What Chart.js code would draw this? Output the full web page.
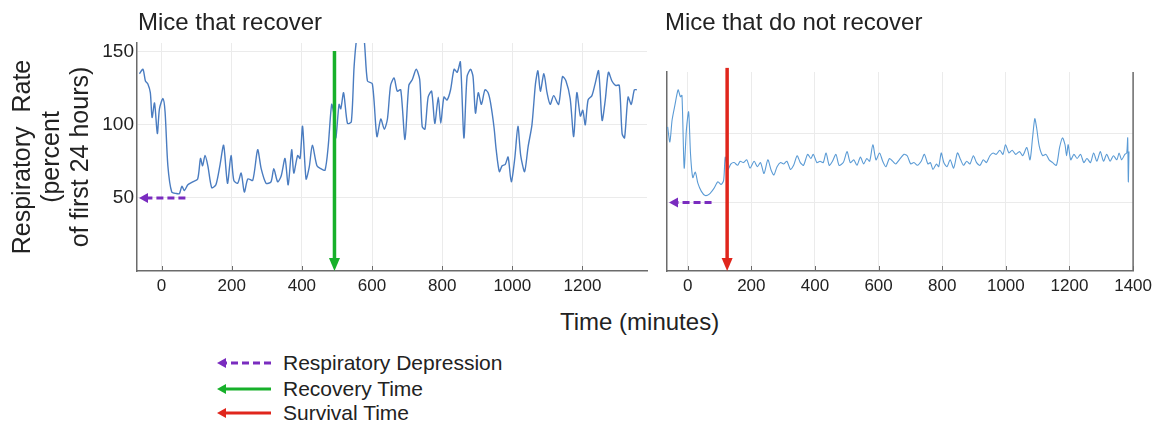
<!DOCTYPE html>
<html>
<head>
<meta charset="utf-8">
<script src="https://cdn.jsdelivr.net/npm/chart.js@4.4.1/dist/chart.umd.min.js"></script>
<style>
  body { margin: 0; background: #fff; font-family: "Liberation Sans", Arial, sans-serif; color: #222; }
  #wrap { position: relative; width: 1157px; height: 424px; overflow: hidden; }
  canvas { position: absolute; top: 0; }
  .txt { position: absolute; white-space: nowrap; }
  .title { font-size: 24px; line-height: 28px; top: 8px; }
  .leg { position: absolute; left: 217px; height: 24px; display: flex; align-items: center; font-size: 21px; }
  .leg svg { margin-right: 12px; }
</style>
</head>
<body>
<div id="wrap">
  <canvas id="recover" width="660" height="300" style="left:0"></canvas>
  <canvas id="norecover" width="502" height="300" style="left:655px"></canvas>
  <div class="txt title" style="left:138px">Mice that recover</div>
  <div class="txt title" style="left:665px">Mice that do not recover</div>
  <div class="txt" style="left:560px;top:308px;font-size:24px;line-height:28px">Time (minutes)</div>
  <div id="legend"></div>
</div>
<script>
// Respiratory rate traces (percent of first 24 hours) vs time (minutes)
const recoverTimes = [-63, -53, -46, -39, -32, -27, -20, -12, -6, 4, 10, 18, 29, 42, 51, 58, 65, 75, 89, 103,
  111, 117, 124, 132, 143, 155, 167, 177, 188, 198, 206, 217, 227, 236, 246, 260, 274, 284, 298, 312,
  320, 331, 341, 352, 361, 371, 377, 388, 395, 402, 412, 421, 430, 443, 454, 466, 475, 485, 492, 497,
  506, 511, 519, 530, 541, 549, 557, 567, 577, 587, 601, 614, 625, 635, 644, 653, 663, 672, 682, 694,
  705, 715, 726, 736, 743, 751, 760, 770, 779, 789, 796, 805, 814, 824, 834, 843, 852, 862, 871, 881,
  888, 895, 903, 912, 922, 931, 938, 948, 954, 963, 971, 980, 988, 997, 1007, 1016, 1024, 1035, 1045, 1056,
  1066, 1073, 1080, 1090, 1099, 1108, 1118, 1132, 1143, 1153, 1165, 1175, 1184, 1194, 1201, 1208, 1216, 1227, 1236, 1246,
  1256, 1265, 1274, 1284, 1294, 1305, 1313, 1320, 1330, 1339, 1348, 1355];
const recoverRates = [135, 138, 130, 128, 122, 105, 115, 94, 111, 118, 109, 72, 54, 53, 53, 58, 55, 59, 61, 63,
  77, 72, 79, 72, 57, 59, 73, 86, 60, 79, 62, 60, 67, 54, 63, 62, 83, 70, 60, 61,
  70, 61, 65, 77, 59, 83, 67, 79, 77, 99, 63, 71, 86, 72, 70, 69, 85, 114, 106, 91,
  114, 111, 122, 101, 102, 140, 160, 165, 160, 130, 128, 92, 104, 97, 104, 127, 132, 123, 124, 90,
  127, 131, 138, 131, 99, 97, 119, 123, 101, 119, 101, 119, 117, 124, 138, 136, 143, 91, 133, 138,
  133, 108, 122, 114, 124, 122, 115, 98, 83, 68, 72, 73, 78, 61, 77, 99, 79, 68, 85, 100,
  128, 137, 123, 135, 122, 114, 120, 114, 133, 130, 118, 92, 122, 106, 110, 100, 117, 120, 128, 137,
  103, 117, 136, 130, 127, 127, 94, 91, 119, 114, 124, 124];

const deathTimes = [-63, -56, -49, -40, -30, -23, -18, -11, -4, 3, 9, 16, 24, 32, 43, 55, 68, 82, 95, 105,
  113, 118, 126, 136, 146, 157, 165, 175, 186, 196, 209, 219, 229, 240, 252, 263, 271, 281, 292, 302,
  312, 323, 333, 344, 354, 364, 377, 387, 395, 406, 416, 426, 435, 445, 455, 466, 476, 489, 501, 511,
  522, 532, 543, 553, 563, 572, 582, 592, 603, 613, 623, 634, 644, 654, 665, 680, 690, 701, 711, 722,
  734, 744, 755, 763, 771, 782, 789, 797, 805, 815, 825, 836, 848, 858, 867, 877, 887, 898, 908, 919,
  929, 939, 950, 960, 970, 981, 991, 999, 1010, 1020, 1031, 1043, 1053, 1066, 1076, 1084, 1091, 1097, 1105, 1116,
  1126, 1136, 1147, 1159, 1169, 1178, 1186, 1191, 1196, 1204, 1214, 1224, 1235, 1245, 1255, 1266, 1276, 1286, 1297, 1307,
  1317, 1328, 1338, 1349, 1356, 1364, 1374, 1380, 1383, 1385, 1387];
const deathRates = [105, 94, 110, 121, 132, 127, 128, 75, 103, 116, 85, 68, 72, 64, 58, 55, 56, 60, 65, 63,
  66, 83, 74, 78, 79, 77, 80, 79, 81, 75, 80, 76, 79, 71, 81, 73, 70, 76, 79, 78,
  80, 74, 77, 84, 79, 77, 85, 82, 85, 79, 80, 79, 86, 77, 80, 85, 77, 79, 87, 79,
  81, 77, 83, 78, 82, 80, 92, 81, 86, 80, 76, 82, 80, 78, 81, 85, 84, 78, 79, 77,
  80, 85, 78, 79, 74, 78, 76, 86, 79, 76, 81, 75, 86, 81, 77, 80, 78, 84, 79, 77,
  81, 79, 84, 86, 85, 88, 85, 92, 86, 88, 85, 87, 84, 90, 81, 97, 111, 104, 91, 84,
  85, 81, 79, 77, 90, 97, 92, 84, 92, 81, 85, 82, 85, 79, 82, 79, 86, 80, 87, 80,
  85, 80, 84, 81, 86, 81, 85, 86, 97, 65, 87];

const recoverXTicks = [0, 200, 400, 600, 800, 1000, 1200];
const deathXTicks = [0, 200, 400, 600, 800, 1000, 1200, 1400];
const yTicks = [50, 100, 150];

// event markers (minutes / percent)
const recoveryTime = 493;          // green arrow
const recoveryArrowTop = 150.5;
const survivalTime = 124;          // red arrow
const survivalArrowTop = 148;
const depressionLevel = 50;        // purple dashed arrows
const depressionEndRecover = 68;
const depressionEndDeath = 75;

const AXIS = '#6b6b6b';
const GRID = '#ebebeb';
const PURPLE = '#7a2cbf';
const GREEN = '#17b02a';
const RED = '#e0261c';

Chart.defaults.font.family = '"Liberation Sans", Arial, sans-serif';
Chart.defaults.color = '#222';

function toPoints(xs, ys) {
  return xs.map((t, i) => ({ x: t, y: ys[i] }));
}

// draws inner tick marks, borders and the event arrows
const overlay = {
  id: 'overlay',
  afterDatasetsDraw(chart, args, opts) {
    const { ctx, chartArea: a, scales: { x, y } } = chart;
    ctx.save();
    ctx.strokeStyle = AXIS;
    ctx.lineWidth = 1;
    x.ticks.forEach(t => {
      const px = Math.round(x.getPixelForValue(t.value)) + 0.5;
      ctx.beginPath(); ctx.moveTo(px, a.bottom); ctx.lineTo(px, a.bottom - 5); ctx.stroke();
    });
    if (opts.rightBorder) {
      ctx.lineWidth = 1.5;
      ctx.beginPath(); ctx.moveTo(a.right, a.top); ctx.lineTo(a.right, a.bottom); ctx.stroke();
    }

    // dashed depression arrow pointing at the y axis
    const dy = y.getPixelForValue(opts.depression.level);
    const tipX = x.getPixelForValue(x.min) + 2;
    const endX = x.getPixelForValue(opts.depression.end);
    ctx.strokeStyle = PURPLE; ctx.fillStyle = PURPLE;
    ctx.lineWidth = 3;
    ctx.setLineDash([7, 4]);
    ctx.beginPath(); ctx.moveTo(endX, dy); ctx.lineTo(tipX + 8, dy); ctx.stroke();
    ctx.setLineDash([]);
    ctx.beginPath(); ctx.moveTo(tipX, dy); ctx.lineTo(tipX + 9, dy - 5); ctx.lineTo(tipX + 9, dy + 5); ctx.closePath(); ctx.fill();

    // vertical event arrow down to the time axis
    const ax = x.getPixelForValue(opts.event.time);
    const top = y.getPixelForValue(opts.event.top);
    ctx.strokeStyle = opts.event.color; ctx.fillStyle = opts.event.color;
    ctx.lineWidth = 3.5;
    ctx.beginPath(); ctx.moveTo(ax, top); ctx.lineTo(ax, a.bottom - 10); ctx.stroke();
    ctx.beginPath(); ctx.moveTo(ax, a.bottom); ctx.lineTo(ax - 5.5, a.bottom - 13); ctx.lineTo(ax + 5.5, a.bottom - 13); ctx.closePath(); ctx.fill();
    ctx.restore();
  }
};

function makeChart(id, cfg) {
  return new Chart(document.getElementById(id), {
    type: 'line',
    data: {
      datasets: [{
        data: cfg.points,
        borderColor: cfg.lineColor,
        borderWidth: cfg.lineWidth,
        pointRadius: 0,
        tension: 0.25,
        fill: false
      }]
    },
    options: {
      responsive: false,
      animation: false,
      events: [],
      layout: { padding: cfg.padding },
      scales: {
        x: {
          type: 'linear',
          min: cfg.xMin,
          max: cfg.xMax,
          afterBuildTicks: s => { s.ticks = cfg.xTicks.map(v => ({ value: v })); },
          afterFit: s => { s.height = 29; },
          grid: { color: GRID, drawTicks: false },
          border: { color: AXIS, width: 1.5 },
          ticks: { font: { size: 17 }, padding: 5, color: '#222', callback: v => String(v) }
        },
        y: {
          min: 0,
          max: cfg.yMax,
          afterBuildTicks: s => { s.ticks = yTicks.filter(v => v <= cfg.yMax).map(v => ({ value: v })); },
          afterFit: s => { s.width = cfg.yWidth; },
          grid: { color: GRID, drawTicks: false },
          border: { color: AXIS, width: 1.5 },
          ticks: { display: cfg.yLabels, font: { size: 19 }, padding: 3, color: '#222', callback: v => String(v) },
          title: cfg.yTitle
        }
      },
      plugins: {
        legend: { display: false },
        tooltip: { enabled: false },
        overlay: cfg.overlay
      }
    },
    plugins: [overlay]
  });
}

makeChart('recover', {
  points: toPoints(recoverTimes, recoverRates),
  lineColor: '#4a7cc0',
  lineWidth: 1.4,
  padding: { left: 0, top: 43, right: 13, bottom: 0 },
  xMin: -70, xMax: 1384, xTicks: recoverXTicks,
  yMax: 156, yWidth: 137, yLabels: true,
  yTitle: {
    display: true,
    text: ['Respiratory  Rate', '(percent', 'of first 24 hours)'],
    font: { size: 25, lineHeight: '29px' },
    padding: { top: 8.5, bottom: 0 },
    color: '#222'
  },
  overlay: {
    rightBorder: false,
    depression: { level: depressionLevel, end: depressionEndRecover },
    event: { time: recoveryTime, top: recoveryArrowTop, color: GREEN }
  }
});

makeChart('norecover', {
  points: toPoints(deathTimes, deathRates),
  lineColor: '#5b9bd5',
  lineWidth: 1.1,
  padding: { left: 0, top: 72, right: 21, bottom: 0 },
  xMin: -65, xMax: 1400, xTicks: deathXTicks,
  yMax: 145, yWidth: 12, yLabels: false,
  yTitle: { display: false },
  overlay: {
    rightBorder: true,
    depression: { level: depressionLevel, end: depressionEndDeath },
    event: { time: survivalTime, top: survivalArrowTop, color: RED }
  }
});

// legend rows: arrow glyph + label
const legendItems = [
  { label: 'Respiratory Depression', color: PURPLE, dashed: true },
  { label: 'Recovery Time', color: GREEN, dashed: false },
  { label: 'Survival Time', color: RED, dashed: false }
];
const legendTops = [351, 377, 401];
const legend = document.getElementById('legend');
legendItems.forEach((item, i) => {
  const row = document.createElement('div');
  row.className = 'leg';
  row.style.top = legendTops[i] + 'px';
  const dash = item.dashed ? 'stroke-dasharray="7 4"' : '';
  row.innerHTML =
    '<svg width="54" height="12" viewBox="0 0 54 12">' +
    '<line x1="54" y1="6" x2="8" y2="6" stroke="' + item.color + '" stroke-width="3" ' + dash + '/>' +
    '<polygon points="0,6 9,1 9,11" fill="' + item.color + '"/></svg>' +
    '<span>' + item.label + '</span>';
  legend.appendChild(row);
});
</script>
</body>
</html>
